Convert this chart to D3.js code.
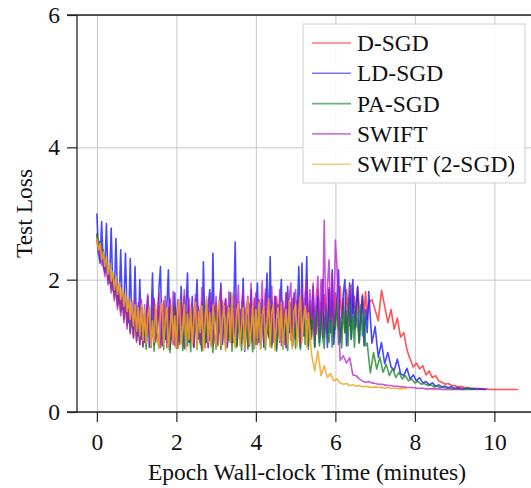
<!DOCTYPE html>
<html>
<head>
<meta charset="utf-8">
<script src="https://cdn.jsdelivr.net/npm/d3@7"></script>
<style>
body{margin:0;background:#fff;}
text{font-family:"Liberation Serif","Times New Roman",serif;fill:#111;}
</style>
</head>
<body>
<script>
// logging intervals (minutes): dense during the noisy phase, coarser after the drop
var head_dt=0.04;
var tail_dt=0.08;
var names=["D-SGD","LD-SGD","PA-SGD","SWIFT","SWIFT (2-SGD)"];
var colors=["#ff1a1a","#1a1aff","#10801a","#b51ec8","#f2a51e"];
var opac=[0.75,0.8,0.75,0.75,0.85];
var xticks=[0,2,4,6,8,10];
var yticks=[0,2,4,6];

// D-SGD
var dsgd_head=[2.70,2.45,2.58,2.28,2.42,2.12,2.30,1.98,2.18,1.85,
2.05,1.72,1.95,1.60,1.88,1.50,1.80,1.40,1.72,1.30,
1.68,1.20,1.65,1.12,1.62,1.08,1.60,1.02,1.58,1.00,
1.48,1.00,1.62,1.25,0.98,1.55,1.70,1.05,1.35,1.60,
0.97,1.45,1.68,1.10,1.52,0.99,1.72,1.30,1.02,1.58,
1.40,0.96,1.65,1.15,1.50,1.75,1.00,1.38,1.62,1.05,
1.55,0.98,1.70,1.20,1.45,1.02,1.66,1.35,0.97,1.60,
1.50,1.08,1.72,1.00,1.42,1.65,1.10,1.55,0.98,1.68,
1.28,1.02,1.60,1.45,1.05,1.75,1.15,1.52,1.00,1.66,
1.38,1.04,1.70,1.20,1.58,0.99,1.64,1.32,1.08,1.72,
1.45,1.02,1.62,1.25,1.55,1.05,1.78,1.18,1.48,1.00,
1.68,1.30,1.06,1.74,1.40,1.10,1.65,1.52,1.02,1.80,
1.22,1.60,1.08,1.72,1.45,1.12,1.68,1.35,1.05,1.76,
1.50,1.15,1.82,1.28,1.62,1.10,1.74,1.42,1.18,1.85,
1.30,1.66,1.12,1.78,1.48,1.20,1.88,1.38,1.70,1.15,
1.80,1.52,1.25,1.90,1.42,1.72,1.20,1.85,1.55,1.30,
1.92,1.48,1.75,1.28,1.88,1.60,1.35,1.78,1.50,1.82,
1.40,1.65];
var dsgd_tail=[1.70,1.54,1.38,1.84,1.60,1.35,1.55,1.25,1.42,1.13,1.20,0.94,0.80,0.68,0.74,0.65,0.70,0.56,0.62,0.52,
0.55,0.47,0.45,0.42,0.43,0.40,0.40,0.38,0.39,0.37,0.37,0.36,0.36,0.36,0.35,0.35,0.35,
0.34,0.34,0.34,0.34,0.34,0.34,0.34,0.34,0.34,0.34];

// LD-SGD
var ldsgd_head=[3.00,2.40,2.25,2.88,2.20,2.10,2.85,2.05,1.95,2.78,
1.85,1.80,2.62,1.70,1.65,2.45,1.55,1.60,2.40,1.45,
1.35,2.32,1.30,1.25,2.20,1.20,1.15,2.00,1.10,1.30,
1.05,1.45,1.75,0.98,1.30,2.10,1.02,1.40,1.15,1.85,
2.20,1.00,1.35,1.10,1.60,2.15,0.95,1.25,1.50,1.80,
1.00,1.40,1.08,1.90,1.20,0.96,1.55,2.10,1.05,1.30,
1.75,0.98,1.45,2.00,1.10,1.35,0.94,2.27,1.20,1.05,
1.60,1.85,1.00,2.40,1.15,0.95,1.50,1.20,1.95,1.02,
1.40,1.70,0.98,1.30,1.80,1.05,1.45,2.57,1.00,1.25,
1.55,1.10,2.02,0.92,1.35,1.65,1.00,1.85,1.20,0.96,
1.50,1.95,1.05,1.30,1.70,0.98,1.45,2.10,1.15,2.35,
1.02,1.40,1.75,0.95,1.25,1.60,2.00,1.05,1.35,0.97,
1.90,1.20,1.50,1.00,1.80,1.10,1.45,2.20,0.98,2.25,
1.15,1.40,2.35,1.00,1.60,1.25,1.90,0.98,1.45,1.75,
1.05,1.35,2.00,1.12,1.55,0.98,1.85,1.20,2.15,1.02,
1.40,1.70,2.15,1.05,1.30,1.80,2.00,1.00,1.50,1.95,
1.10,2.00,1.25,1.60,1.90,1.05,1.45,1.75,1.00,1.55,
1.20,1.82];
var ldsgd_tail=[1.04,1.29,0.83,1.05,0.73,0.90,0.68,0.63,0.80,0.58,0.55,0.66,0.50,0.56,0.47,0.52,0.44,0.46,0.41,0.44,
0.39,0.41,0.38,0.39,0.37,0.38,0.36,0.37,0.36,0.35,0.36,0.35,0.35,0.34,0.35,0.34,0.34];

// PA-SGD
var pasgd_head=[2.70,2.48,2.58,2.30,2.45,2.15,2.30,2.00,2.18,1.88,
2.05,1.75,1.95,1.62,1.85,1.52,1.78,1.42,1.70,1.32,
1.65,1.22,1.60,1.15,1.58,1.08,1.55,1.02,1.60,0.98,
1.50,0.95,1.30,1.58,1.00,1.42,0.92,1.55,1.20,0.97,
1.48,1.62,0.94,1.35,1.05,1.58,0.90,1.40,1.25,1.60,
0.96,1.45,1.02,1.65,0.93,1.30,1.52,1.00,1.38,0.91,
1.60,1.10,1.48,0.95,1.55,1.25,0.92,1.62,1.05,1.40,
0.97,1.50,1.18,0.90,1.58,1.35,1.00,1.65,0.94,1.28,
1.52,0.96,1.42,1.08,1.60,0.92,1.45,1.20,0.98,1.55,
1.32,0.93,1.62,1.05,1.40,0.95,1.50,1.22,0.91,1.58,
1.02,1.45,1.68,0.96,1.30,1.55,0.94,1.40,1.12,1.60,
0.97,1.48,1.25,0.92,1.62,1.05,1.38,0.95,1.55,1.18,
0.93,1.50,1.65,1.00,1.35,0.96,1.58,1.22,0.94,1.45,
1.60,1.02,1.38,0.95,1.68,1.15,1.48,0.98,1.60,1.30,
1.00,1.55,1.12,0.96,1.62,1.40,1.05,1.58,0.98,1.50,
1.25,1.65,1.02,1.42,0.97,1.60,1.20,1.52,1.00,1.66,
1.10,1.45,0.98,1.58,1.30,1.04,1.62,1.15,1.50,1.00,
1.04];
var pasgd_tail=[0.59,0.90,0.65,0.83,0.60,0.72,0.55,0.66,0.52,0.60,0.50,0.55,0.47,0.50,0.44,0.46,0.42,0.43,0.40,0.41,
0.38,0.39,0.37,0.37,0.36,0.36,0.35,0.35,0.35,0.34,0.34,0.34,0.34,0.34];

// SWIFT
var swift_head=[2.60,2.38,2.48,2.22,2.35,2.05,2.22,1.92,2.10,1.80,
1.98,1.68,1.90,1.55,1.82,1.45,1.78,1.35,1.72,1.25,
1.70,1.18,1.68,1.12,1.72,1.05,1.65,1.02,1.70,1.00,
1.62,1.05,1.78,1.20,0.98,1.55,1.72,1.08,1.40,1.80,
1.02,1.60,1.25,1.75,0.97,1.50,1.68,1.10,1.82,1.00,
1.45,1.70,1.05,1.62,1.30,1.85,0.99,1.55,1.72,1.12,
1.65,1.00,1.78,1.35,1.60,1.05,1.88,1.15,1.50,1.70,
0.98,1.62,1.80,1.10,1.45,1.75,1.02,1.66,1.90,1.08,
1.55,1.72,1.00,1.82,1.25,1.60,1.05,1.78,1.40,1.92,
1.10,1.65,1.85,1.02,1.58,1.75,1.20,1.95,1.05,1.62,
1.80,1.12,1.70,1.50,1.98,1.08,1.85,1.30,1.72,1.15,
1.90,1.05,1.75,1.62,1.20,1.85,1.00,1.68,1.40,1.80,
1.10,1.72,1.95,1.05,1.60,1.85,1.25,1.70,1.02,1.90,
1.35,1.80,2.00,1.20,1.85,1.40,1.95,1.15,1.75,2.05,
1.30,2.00,1.45,2.90,1.25,1.90,2.30,1.40,2.10,1.30,
2.60,2.20];
var swift_tail=[0.78,0.85,0.74,0.82,0.56,0.55,0.50,0.47,0.45,0.46,0.44,0.43,0.42,0.42,0.41,0.40,0.40,0.39,0.39,0.38,
0.38,0.37,0.37,0.37,0.36,0.36,0.36,0.35,0.35,0.35,0.35,0.35,0.34,0.34,0.34,0.34,0.34,0.34,0.34,0.34];

// SWIFT (2-SGD)
var swift2_head=[2.62,2.45,2.55,2.30,2.42,2.20,2.35,2.08,2.25,1.98,
2.12,1.85,2.05,1.78,1.95,1.70,1.88,1.60,1.80,1.52,
1.72,1.40,1.66,1.30,1.62,1.22,1.58,1.15,1.63,1.08,
1.55,1.02,1.45,1.60,0.98,1.38,1.05,1.62,1.20,0.96,
1.50,1.65,1.00,1.35,1.58,0.95,1.25,1.60,1.08,1.45,
0.97,1.55,1.70,1.02,1.30,1.62,0.94,1.48,1.10,1.58,
1.00,1.40,1.66,0.96,1.52,1.20,1.60,0.93,1.35,1.75,
1.05,1.50,0.98,1.62,1.28,0.95,1.55,1.68,1.00,1.42,
1.60,0.92,1.38,1.58,1.05,1.80,1.15,0.96,1.52,1.64,
1.00,1.30,1.58,0.94,1.45,1.70,1.02,1.25,1.60,0.97,
1.55,1.12,1.66,0.95,1.48,1.60,1.00,1.35,1.72,0.98,
1.50,1.62,0.93,1.40,1.58,1.08,1.65,0.96,1.30,1.55,
1.02,1.68,1.20,0.95,1.52,1.62,1.00,1.45,1.78,1.05,
1.40,1.60,0.98,1.50];
var swift2_tail=[0.88,0.62,0.92,0.55,0.70,0.52,0.58,0.47,0.50,0.44,0.42,0.43,0.40,0.41,0.39,0.40,0.38,0.39,0.38,0.37,
0.38,0.37,0.37,0.36,0.37,0.36,0.36,0.36,0.35,0.36,0.35];

var heads=[dsgd_head,ldsgd_head,pasgd_head,swift_head,swift2_head];
var tails=[dsgd_tail,ldsgd_tail,pasgd_tail,swift_tail,swift2_tail];

var width=531,height=488;
var top_y=15,bottom_y=412,left_x=77;
var svg=d3.select("body").append("svg").attr("width",width).attr("height",height);

var xscale=d3.scaleLinear().domain([-0.5,11]).range([left_x,left_x+11.5*39.75]);
var yscale=d3.scaleLinear().domain([0,6]).range([bottom_y,top_y]);

// grid
var gx=svg.append("g").attr("transform","translate(0,"+bottom_y+")")
	.call(d3.axisBottom(xscale).tickValues(xticks).tickSize(-(bottom_y-top_y)).tickFormat(""));
gx.select(".domain").remove();
gx.selectAll("line").attr("stroke","#c8c8c8").attr("stroke-width",1);
var gy=svg.append("g").attr("transform","translate("+left_x+",0)")
	.call(d3.axisLeft(yscale).tickValues(yticks).tickSize(-(width-left_x)).tickFormat(""));
gy.select(".domain").remove();
gy.selectAll("line").attr("stroke","#c8c8c8").attr("stroke-width",1);

// curves: noisy head, then the tail after the loss drops
var line=d3.line().x(function(d){return xscale(d[0]);}).y(function(d){return yscale(d[1]);});
heads.forEach(function(h,k){
	var pts=h.map(function(v,i){return [i*head_dt,v];});
	var t0=(h.length-1)*head_dt;
	tails[k].forEach(function(v,i){pts.push([t0+(i+1)*tail_dt,v]);});
	svg.append("path").datum(pts).attr("d",line).attr("fill","none")
		.attr("stroke",colors[k]).attr("stroke-width",1.6).attr("stroke-opacity",opac[k])
		.attr("stroke-linejoin","round");
});

// axes
var xaxis=svg.append("g").attr("transform","translate(0,"+bottom_y+")")
	.call(d3.axisBottom(xscale).tickValues(xticks).tickSize(10).tickPadding(11).tickFormat(d3.format("d")));
var yaxis=svg.append("g").attr("transform","translate("+left_x+",0)")
	.call(d3.axisLeft(yscale).tickValues(yticks).tickSize(10).tickPadding(7).tickFormat(d3.format("d")));
[xaxis,yaxis].forEach(function(a){
	a.select(".domain").remove();
	a.selectAll("line").attr("stroke","#222").attr("stroke-width",1.2);
	a.selectAll("text").attr("font-size",23.5).attr("fill","#111");
});
svg.append("line").attr("x1",67).attr("x2",width).attr("y1",bottom_y).attr("y2",bottom_y).attr("stroke","#222").attr("stroke-width",1.3);
svg.append("line").attr("x1",67).attr("x2",width).attr("y1",top_y).attr("y2",top_y).attr("stroke","#222").attr("stroke-width",1.3);
svg.append("line").attr("x1",left_x).attr("x2",left_x).attr("y1",top_y).attr("y2",bottom_y).attr("stroke","#222").attr("stroke-width",1.3);

// labels
svg.append("text").attr("x",(left_x+width)/2+3).attr("y",480).attr("text-anchor","middle")
	.attr("font-size",23.5).text("Epoch Wall-clock Time (minutes)");
svg.append("text").attr("transform","translate(32,"+((top_y+bottom_y)/2)+") rotate(-90)")
	.attr("text-anchor","middle").attr("font-size",23.5).text("Test Loss");

// legend
var lg=svg.append("g").attr("transform","translate(303,24)");
lg.append("rect").attr("width",222).attr("height",159).attr("fill","#fff").attr("fill-opacity",0.85)
	.attr("stroke","#cfcfcf").attr("stroke-width",1);
names.forEach(function(n,k){
	var yy=19+k*30.3;
	lg.append("line").attr("x1",9).attr("x2",48).attr("y1",yy).attr("y2",yy)
		.attr("stroke",colors[k]).attr("stroke-width",1.6).attr("stroke-opacity",0.6);
	lg.append("text").attr("x",54).attr("y",yy).attr("dy","0.34em").attr("font-size",23.5).text(n);
});
</script>
</body>
</html>
